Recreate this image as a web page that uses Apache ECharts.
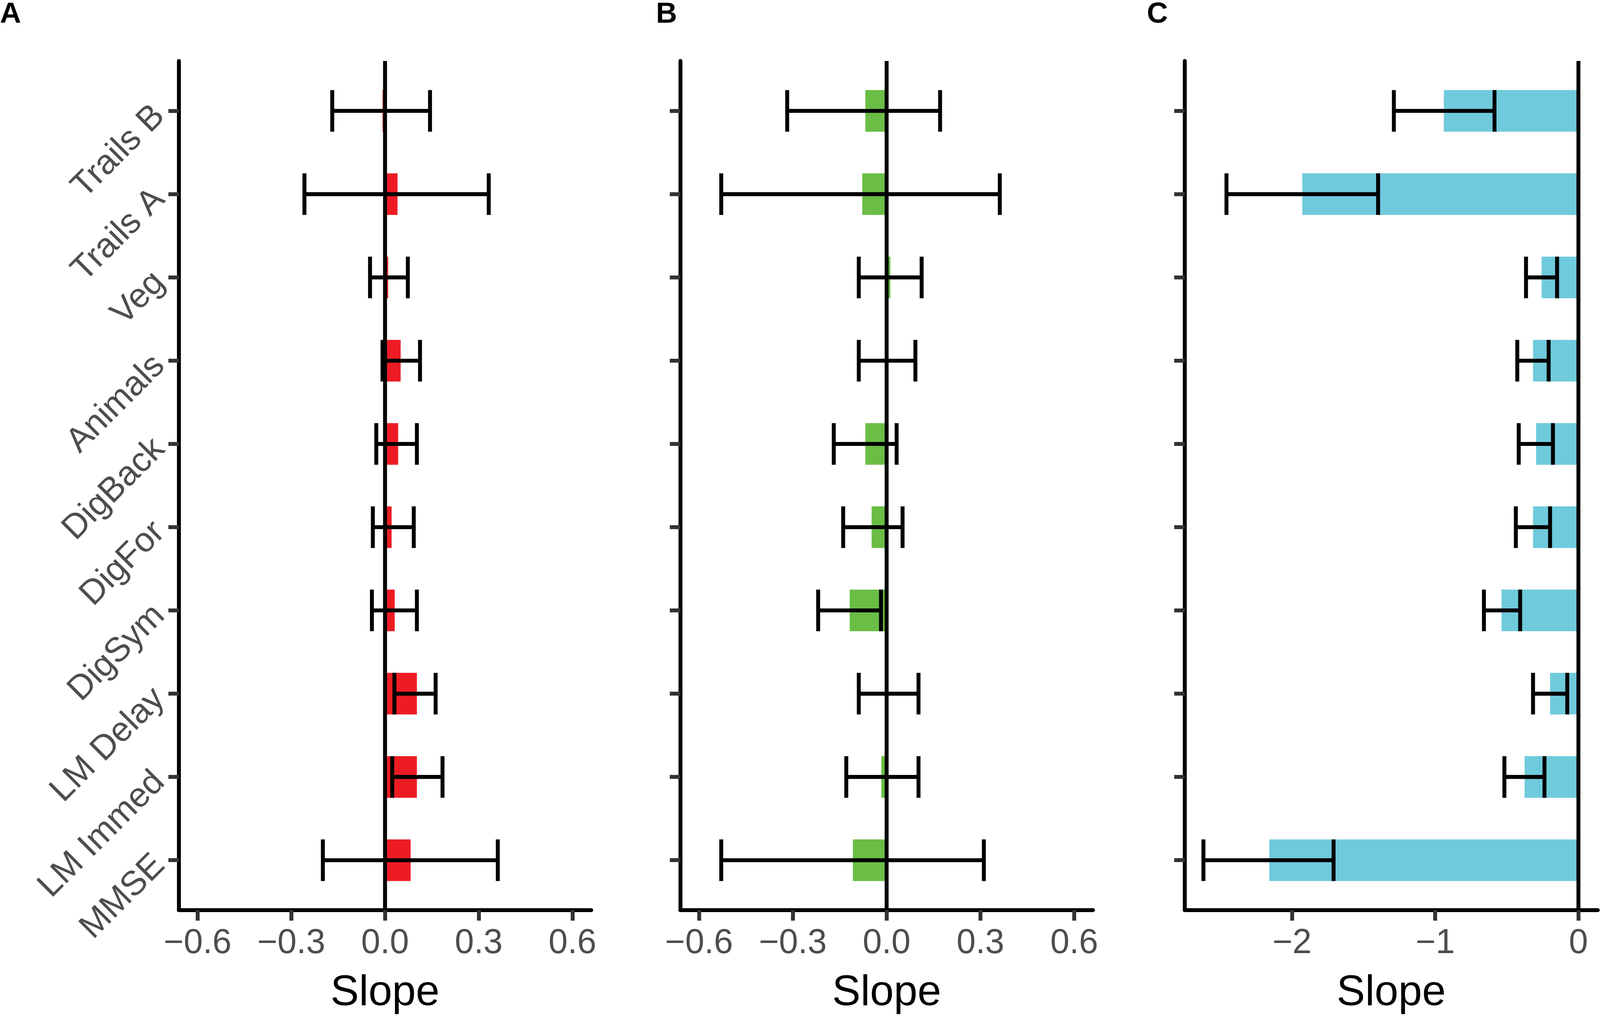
<!DOCTYPE html>
<html>
<head>
<meta charset="utf-8">
<script src="https://cdn.jsdelivr.net/npm/echarts@6/dist/echarts.min.js"></script>
<style>
html,body{margin:0;padding:0;background:#ffffff;overflow:hidden;}
#chart{width:100vw;height:100vh;}
</style>
</head>
<body>
<div id="chart"></div>
<script>
// ---------- data ----------
const categories = ['Trails B','Trails A','Veg','Animals','DigBack','DigFor','DigSym','LM Delay','LM Immed','MMSE'];

const slopeA = [-0.008, 0.040, 0.010, 0.050, 0.042, 0.021, 0.031, 0.102, 0.102, 0.082];
const lowerA = [-0.169, -0.258, -0.048, -0.008, -0.028, -0.039, -0.042, 0.030, 0.023, -0.199];
const upperA = [0.144, 0.332, 0.073, 0.112, 0.102, 0.092, 0.102, 0.162, 0.184, 0.361];

const slopeB = [-0.068, -0.078, 0.012, 0.002, -0.068, -0.048, -0.118, 0.005, -0.017, -0.108];
const lowerB = [-0.318, -0.529, -0.089, -0.089, -0.169, -0.139, -0.219, -0.089, -0.129, -0.529];
const upperB = [0.171, 0.362, 0.112, 0.092, 0.032, 0.051, -0.018, 0.102, 0.102, 0.311];

const slopeC = [-0.940, -1.928, -0.257, -0.317, -0.296, -0.317, -0.537, -0.198, -0.376, -2.159];
const lowerC = [-1.289, -2.458, -0.366, -0.427, -0.417, -0.437, -0.660, -0.317, -0.517, -2.619];
const upperC = [-0.586, -1.399, -0.149, -0.208, -0.178, -0.198, -0.407, -0.078, -0.237, -1.710];

const xTicksAB = [-0.6, -0.3, 0, 0.3, 0.6];
const xTickLabelsAB = ['\u22120.6', '\u22120.3', '0.0', '0.3', '0.6'];
const xTicksC = [-2, -1, 0];
const xTickLabelsC = ['\u22122', '\u22121', '0'];
const refValue = 0;
const panelLabels = ['A', 'B', 'C'];
const axisTitle = 'Slope';

// ---------- layout (designed for 4276 x 2605, scaled to the viewport) ----------
const BASE_W = 4276, BASE_H = 2605;
const VW = window.innerWidth || BASE_W;
const VH = window.innerHeight || BASE_H;
const sx = VW / BASE_W, sy = VH / BASE_H, s = Math.min(sx, sy);

const FONT = '"Liberation Sans", Arial, Helvetica, sans-serif';
const barColors = ['#ED1C24', '#6ABD45', '#6FCADC'];
const gridLefts = [478, 1818, 3166];
const gridWidths = [1102, 1103, 1104];
const gridTop = 156;
const gridHeight = 2173;
const xRanges = [[-0.66, 0.66], [-0.66, 0.66], [-2.75, 0.135]];
const panelLabelLefts = [0, 1753, 3065];
const HALF = 0.25;
const LW = 10.5 * s;
const TICK_LEN = 28 * s;

const panels = [
  {slope: slopeA, lower: lowerA, upper: upperA, ticks: xTicksAB, tickLabels: xTickLabelsAB},
  {slope: slopeB, lower: lowerB, upper: upperB, ticks: xTicksAB, tickLabels: xTickLabelsAB},
  {slope: slopeC, lower: lowerC, upper: upperC, ticks: xTicksC, tickLabels: xTickLabelsC}
];
const catIdx = categories.map((c, i) => i);

const grids = [], xAxes = [], yAxes = [], series = [], titles = [];

panels.forEach((p, k) => {
  grids.push({left: gridLefts[k] * sx, top: gridTop * sy, width: gridWidths[k] * sx, height: gridHeight * sy,
              containLabel: false, outerBoundsMode: 'none'});
  xAxes.push({
    type: 'value', gridIndex: k, min: xRanges[k][0], max: xRanges[k][1],
    position: 'bottom',
    name: axisTitle, nameLocation: 'middle', nameGap: 158 * sy,
    nameTextStyle: {fontSize: 114 * s, color: '#000000', fontFamily: FONT},
    axisLine: {show: true, onZero: false, lineStyle: {color: '#000000', width: LW}},
    axisTick: {show: true, customValues: p.ticks, length: TICK_LEN, lineStyle: {color: '#333333', width: LW}},
    axisLabel: {show: true, customValues: p.ticks, margin: 42 * sy, fontSize: 92 * s, color: '#4D4D4D', fontFamily: FONT,
      formatter: (v) => { const j = p.ticks.findIndex(t => Math.abs(t - v) < 1e-9); return j >= 0 ? p.tickLabels[j] : ''; }},
    splitLine: {show: false}
  });
  yAxes.push({
    type: 'value', gridIndex: k, inverse: true, min: -0.6, max: 9.6,
    axisLine: {show: true, onZero: false, lineStyle: {color: '#000000', width: LW}},
    axisTick: {show: true, customValues: catIdx, length: TICK_LEN, lineStyle: {color: '#333333', width: LW}},
    axisLabel: {show: k === 0, customValues: catIdx, rotate: 45, margin: 52 * sx, fontSize: 92 * s, color: '#4D4D4D',
      fontFamily: FONT, verticalAlign: 'middle', align: 'right',
      formatter: (v) => categories[Math.round(v)]},
    splitLine: {show: false}
  });
  // bars
  series.push({
    type: 'custom', xAxisIndex: k, yAxisIndex: k, z: 2,
    data: p.slope.map((v, i) => [i, v]),
    encode: {x: 1, y: 0},
    renderItem: (params, api) => {
      const i = api.value(0), v = api.value(1);
      const a = api.coord([0, i - HALF]);
      const b = api.coord([v, i + HALF]);
      return {type: 'rect',
        shape: {x: Math.min(a[0], b[0]), y: Math.min(a[1], b[1]), width: Math.abs(b[0] - a[0]), height: Math.abs(b[1] - a[1])},
        style: {fill: barColors[k]}};
    }
  });
  // zero reference line
  series.push({
    type: 'custom', xAxisIndex: k, yAxisIndex: k, z: 3,
    data: [[refValue]],
    encode: {x: 0},
    renderItem: (params, api) => {
      const v = api.value(0);
      const a = api.coord([v, -0.6]);
      const b = api.coord([v, 9.6]);
      return {type: 'line', shape: {x1: a[0], y1: a[1], x2: b[0], y2: b[1]},
        style: {stroke: '#000000', lineWidth: LW}};
    }
  });
  // error bars
  series.push({
    type: 'custom', xAxisIndex: k, yAxisIndex: k, z: 4,
    data: p.lower.map((lo, i) => [i, lo, p.upper[i]]),
    encode: {x: [1, 2], y: 0},
    renderItem: (params, api) => {
      const i = api.value(0), lo = api.value(1), hi = api.value(2);
      const m1 = api.coord([lo, i]), m2 = api.coord([hi, i]);
      const c1a = api.coord([lo, i - HALF]), c1b = api.coord([lo, i + HALF]);
      const c2a = api.coord([hi, i - HALF]), c2b = api.coord([hi, i + HALF]);
      const st = {stroke: '#000000', lineWidth: LW, lineCap: 'butt'};
      return {type: 'group', children: [
        {type: 'line', shape: {x1: m1[0], y1: m1[1], x2: m2[0], y2: m2[1]}, style: st},
        {type: 'line', shape: {x1: c1a[0], y1: c1a[1], x2: c1b[0], y2: c1b[1]}, style: st},
        {type: 'line', shape: {x1: c2a[0], y1: c2a[1], x2: c2b[0], y2: c2b[1]}, style: st}
      ]};
    }
  });
  titles.push({text: panelLabels[k], left: panelLabelLefts[k] * sx, top: 0, padding: 0,
    textStyle: {fontSize: 78 * s, fontWeight: 'bold', color: '#000000', fontFamily: FONT}});
});

const chart = echarts.init(document.getElementById('chart'), null, {renderer: 'canvas', width: VW, height: VH});
chart.setOption({
  animation: false,
  backgroundColor: '#ffffff',
  title: titles,
  grid: grids,
  xAxis: xAxes,
  yAxis: yAxes,
  series: series
});
</script>
</body>
</html>
